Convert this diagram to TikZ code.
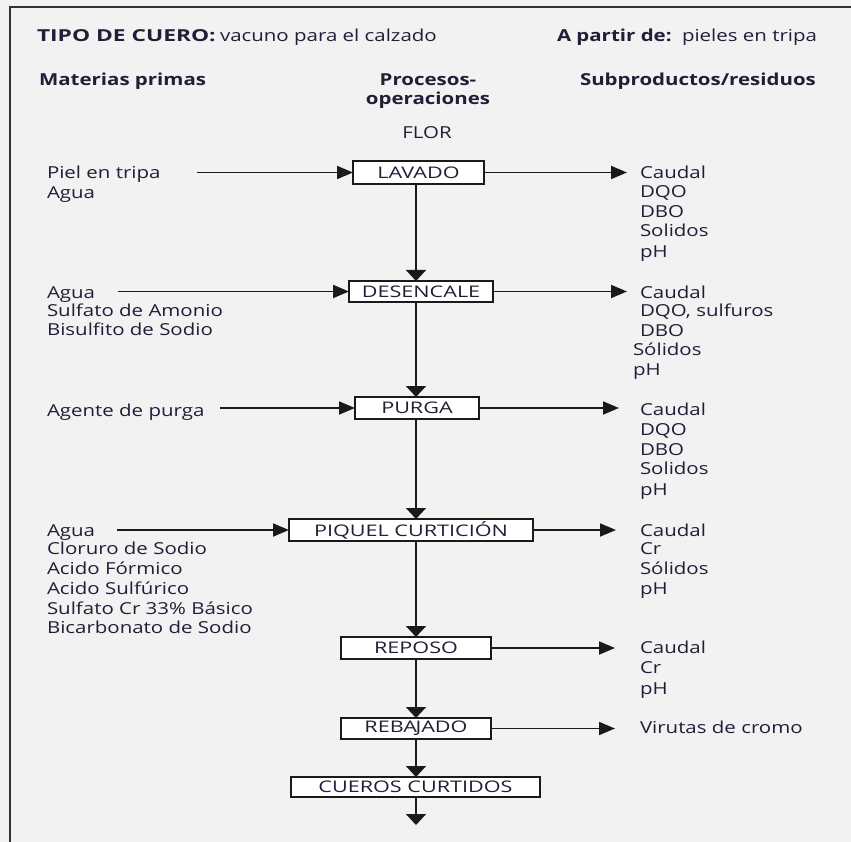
\documentclass[tikz,border=0pt]{standalone}
\usepackage{fontspec}
\setmainfont{Open Sans}[FakeStretch=1.24]
\newfontfamily\boxfont{Open Sans}[FakeStretch=1.35]
\newfontfamily\wideb{Open Sans}[FakeStretch=1.38]
\usetikzlibrary{arrows.meta}
\definecolor{bg}{HTML}{F2F2F2}
\definecolor{txt}{HTML}{1F1F38}
\definecolor{ln}{HTML}{1A1A1A}
\definecolor{frame}{HTML}{333333}
\begin{document}
\begin{tikzpicture}[x=1pt,y=-1pt,
  every node/.style={inner sep=0pt, outer sep=0pt, text=txt},
  lbl/.style={anchor=base west, font=\fontsize{16.5}{19.5}\selectfont},
  hdr/.style={anchor=base west, font=\fontsize{16.5}{19.5}\selectfont\bfseries},
  hdrc/.style={anchor=base, font=\fontsize{16.5}{19.5}\selectfont\bfseries},
  proc/.style={draw=ln, line width=1.6pt, fill=white, font=\boxfont\fontsize{16}{19}\selectfont, text=txt},
  harr/.style={draw=ln, line width=1.8pt, -{Triangle[length=16pt,width=13pt]}},
  varr/.style={draw=ln, line width=1.8pt, -{Triangle[length=11pt,width=20pt]}},
  ]
\useasboundingbox (0,0) rectangle (851,842);
\fill[bg] (0,0) rectangle (851,842);
\draw[frame, line width=2pt] (10,842) -- (10,7) -- (851,7);

% header
\node[hdr, font=\wideb\fontsize{16.5}{19.5}\selectfont\bfseries] (h1) at (37,42) {TIPO DE CUERO:};
\node[lbl] (h1b) at (220,42) {vacuno para el calzado};
\node[hdr] (h2) at (557,42) {A partir de:};
\node[lbl] (h2b) at (682,42) {pieles en tripa};
\node[hdr] (c1) at (39,86) {Materias primas};
\node[hdrc] (c2a) at (428,86) {Procesos-};
\node[hdrc] (c2b) at (428,105) {operaciones};
\node[hdr] (c3) at (580,86) {Subproductos/residuos};
\node[anchor=base, font=\fontsize{16.5}{19.5}\selectfont] (flor) at (427,139) {FLOR};

% process boxes
\node[proc, minimum width=131pt, minimum height=23pt] (lav) at (418.5,172.5) {LAVADO};
\node[proc, minimum width=144pt, minimum height=21pt] (des) at (421,291.5) {DESENCALE};
\node[proc, minimum width=124pt, minimum height=22pt] (pur) at (417,408) {PURGA};
\node[proc, minimum width=244pt, minimum height=22pt] (piq) at (411,530) {PIQUEL CURTICIÓN};
\node[proc, minimum width=150pt, minimum height=22pt] (rep) at (416,648) {REPOSO};
\node[proc, minimum width=150pt, minimum height=21pt] (reb) at (416,728.5) {REBA\kern-1.5pt JADO};
\node[proc, minimum width=249pt, minimum height=20pt] (cue) at (415.5,787) {CUEROS CURTIDOS};

% spine
\coordinate (sp) at (416,0);
\coordinate (fin) at (416,825);
\draw[varr] (lav.south -| sp) -- (des.north -| sp);
\draw[varr] (des.south -| sp) -- (pur.north -| sp);
\draw[varr] (pur.south -| sp) -- (piq.north -| sp);
\draw[varr] (piq.south -| sp) -- (rep.north -| sp);
\draw[varr] (rep.south -| sp) -- (reb.north -| sp);
\draw[varr] (reb.south -| sp) -- (cue.north -| sp);
\draw[varr] (cue.south -| sp) -- (fin);

% inputs
\coordinate (i1) at (197,172.5);
\coordinate (i2) at (118,291.5);
\coordinate (i3) at (220,408);
\coordinate (i4) at (117,530);
\draw[harr] (i1) -- (lav.west);
\draw[harr] (i2) -- (des.west);
\draw[harr] (i3) -- (pur.west);
\draw[harr] (i4) -- (piq.west);

% outputs
\coordinate (o1) at (627,172.5);
\coordinate (o2) at (627,291.5);
\coordinate (o3) at (619,408);
\coordinate (o4) at (616,530);
\coordinate (o5) at (615,648);
\coordinate (o6) at (615,728.5);
\draw[harr] (lav.east) -- (o1);
\draw[harr] (des.east) -- (o2);
\draw[harr] (pur.east) -- (o3);
\draw[harr] (piq.east) -- (o4);
\draw[harr] (rep.east) -- (o5);
\draw[harr] (reb.east) -- (o6);

% raw materials
\node[lbl] (m1) at (47,178.5) {Piel en tripa};
\node[lbl] (m2) at (47,198.5) {Agua};
\node[lbl] (m3) at (47,298.5) {Agua};
\node[lbl] (m4) at (47,316.5) {Sulfato de Amonio};
\node[lbl] (m5) at (47,335.5) {Bisulfito de Sodio};
\node[lbl] (m6) at (47,416.5) {Agente de purga};
\node[lbl] (m7) at (47,536.5) {Agua};
\node[lbl] (m8) at (47,554.5) {Cloruro de Sodio};
\node[lbl] (m9) at (47,574.5) {Acido Fórmico};
\node[lbl] (m10) at (47,594.5) {Acido Sulfúrico};
\node[lbl] (m11) at (47,614.5) {Sulfato Cr 33\% Básico};
\node[lbl] (m12) at (47,633.5) {Bicarbonato de Sodio};

% by-products
\node[lbl] (r1) at (640,178.5) {Caudal};
\node[lbl] (r2) at (640,197.5) {DQO};
\node[lbl] (r3) at (640,217.5) {DBO};
\node[lbl] (r4) at (640,236.5) {Solidos};
\node[lbl] (r5) at (640,257.5) {pH};

\node[lbl] (r6) at (640,298.5) {Caudal};
\node[lbl] (r7) at (640,316.5) {DQO, sulfuros};
\node[lbl] (r8) at (640,336.5) {DBO};
\node[lbl] (r9) at (633,355.5) {Sólidos};
\node[lbl] (r10) at (633,375.5) {pH};

\node[lbl] (r11) at (640,415.5) {Caudal};
\node[lbl] (r12) at (640,435.5) {DQO};
\node[lbl] (r13) at (640,455.5) {DBO};
\node[lbl] (r14) at (640,474.5) {Solidos};
\node[lbl] (r15) at (640,495.5) {pH};

\node[lbl] (r16) at (640,536.5) {Caudal};
\node[lbl] (r17) at (640,554.5) {Cr};
\node[lbl] (r18) at (640,574.5) {Sólidos};
\node[lbl] (r19) at (640,594.5) {pH};

\node[lbl] (r20) at (640,653.5) {Caudal};
\node[lbl] (r21) at (640,673.5) {Cr};
\node[lbl] (r22) at (640,694.5) {pH};

\node[lbl] (r23) at (640,733.5) {Virutas de cromo};
\end{tikzpicture}
\end{document}
